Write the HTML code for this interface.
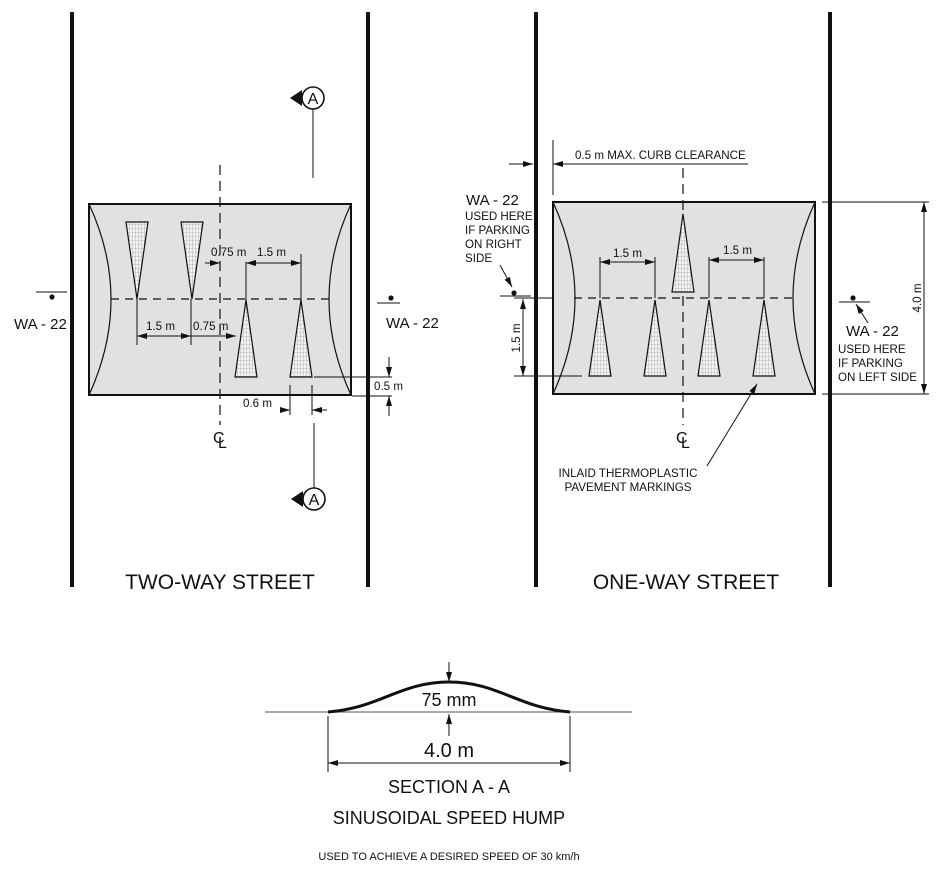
<!DOCTYPE html>
<html><head><meta charset="utf-8"><style>
html,body{margin:0;padding:0;background:#fff}
svg{display:block}
text{font-family:"Liberation Sans",Arial,sans-serif;fill:#111}
</style></head><body>
<svg width="943" height="871" viewBox="0 0 943 871" xmlns="http://www.w3.org/2000/svg">
<defs>
<pattern id="h" width="3" height="4" patternUnits="userSpaceOnUse">
<rect width="3" height="4" fill="#f2f2f2"/><path d="M0 0H3M0 0V4" stroke="#888" stroke-width="0.6"/>
</pattern>
<marker id="a" viewBox="0 0 10 6" refX="10" refY="3" markerWidth="10" markerHeight="6" orient="auto-start-reverse" markerUnits="userSpaceOnUse"><path d="M0 0L10 3L0 6Z" fill="#111"/></marker>
</defs>
<g stroke="#111" fill="none">
<path d="M72 12V587M368 12V587M536 12V587M830 12V587" stroke-width="4"/>
<rect x="89" y="204" width="262" height="191" fill="#e1e1e1" stroke-width="2"/>
<rect x="553" y="202" width="262" height="192" fill="#e1e1e1" stroke-width="2"/>
<g stroke-width="1.2">
<path d="M89 204Q133 299 89 395M351 204Q307 299 351 395"/>
<path d="M553 202Q597 298 553 394M815 202Q771 298 815 394"/>
<path d="M111 299H329" stroke-dasharray="8,6"/>
<path d="M220 165V425" stroke-dasharray="10,6"/>
<path d="M574 298H793" stroke-dasharray="8,6"/>
<path d="M683 168V425" stroke-dasharray="10,6"/>
</g>
<g fill="url(#h)" stroke-width="1.2">
<path d="M126 222H148L137 299Z"/><path d="M181 222H203L192 299Z"/>
<path d="M235 377H257L246 300Z"/><path d="M290 377H312L301 300Z"/>
<path d="M672 292H694L683 214Z"/>
<path d="M589 376H611L600 300Z"/><path d="M644 376H666L655 300Z"/>
<path d="M698 376H720L709 300Z"/><path d="M753 376H775L764 300Z"/>
</g>
<g stroke-width="1">
<path d="M137 299V345M191 299V345"/>
<path d="M137 336H191" marker-start="url(#a)" marker-end="url(#a)"/>
<path d="M191 336H236" marker-end="url(#a)"/>
<path d="M246 300V262M301 300V254"/>
<path d="M205 263H220" marker-end="url(#a)"/>
<path d="M246 263H301" marker-start="url(#a)" marker-end="url(#a)"/>
<path d="M314 377H392M352 396H392"/>
<path d="M389 357V377" marker-end="url(#a)"/>
<path d="M389 416V396" marker-end="url(#a)"/>
<path d="M290 385V415M312 385V415"/>
<path d="M280 410H290" marker-end="url(#a)"/>
<path d="M327 410H312" marker-end="url(#a)"/>
<path d="M36 292H67M377 303H400"/>
<path d="M313 109V178M314 423V488"/>
</g>
<circle cx="313" cy="98" r="11" fill="#fff" stroke-width="1.6"/>
<circle cx="314" cy="499" r="11" fill="#fff" stroke-width="1.6"/>
<g stroke-width="1">
<path d="M600 298V257M655 298V257M709 298V257M764 298V257"/>
<path d="M600 262H655" marker-start="url(#a)" marker-end="url(#a)"/>
<path d="M709 260H764" marker-start="url(#a)" marker-end="url(#a)"/>
<path d="M553 140V195"/>
<path d="M509 164H533" marker-end="url(#a)"/>
<path d="M748 164H553" marker-end="url(#a)"/>
<path d="M514 298H553M514 376H582"/>
<path d="M523 299V376" marker-start="url(#a)" marker-end="url(#a)"/>
<path d="M500 296H531"/>
<path d="M500 265L512 287" marker-end="url(#a)"/>
<path d="M822 202H929M822 394H929"/>
<path d="M924 202V394" marker-start="url(#a)" marker-end="url(#a)"/>
<path d="M839 302H870"/>
<path d="M868 323L856 304" marker-end="url(#a)"/>
<path d="M707 466L757 384" marker-end="url(#a)"/>
</g>
<path d="M265 712H632" stroke="#777" stroke-width="1.2"/>
<path d="M328 712C380 708 400 682 449 682C498 682 518 708 570 712" stroke-width="3"/>
<g stroke-width="1">
<path d="M449 662V682" marker-end="url(#a)"/>
<path d="M449 736V714" marker-end="url(#a)"/>
<path d="M328 716V772M570 716V772"/>
<path d="M328 763H570" marker-start="url(#a)" marker-end="url(#a)"/>
</g>
</g>
<g fill="#111">
<circle cx="52" cy="297" r="2.6"/><circle cx="391" cy="298" r="2.6"/>
<circle cx="514" cy="293" r="2.6"/><circle cx="853" cy="298" r="2.6"/>
<path d="M290 98L302 90V106Z"/><path d="M291 499L303 491V507Z"/>
</g>
<g font-size="16" text-anchor="middle">
<text x="313" y="104">A</text><text x="314" y="505">A</text>
</g>
<g font-size="11.6">
<text x="146" y="330">1.5 m</text><text x="193" y="330">0.75 m</text>
<text x="211" y="256">0.75 m</text><text x="257" y="256">1.5 m</text>
<text x="374" y="390">0.5 m</text><text x="243" y="407">0.6 m</text>
<text x="613" y="257">1.5 m</text><text x="723" y="254">1.5 m</text>
<text x="575" y="159">0.5 m MAX. CURB CLEARANCE</text>
<text transform="translate(520,338) rotate(-90)" text-anchor="middle">1.5 m</text>
<text transform="translate(921,298) rotate(-90)" text-anchor="middle">4.0 m</text>
</g>
<g font-size="15">
<text x="14" y="329">WA - 22</text><text x="386" y="328">WA - 22</text>
<text x="466" y="205">WA - 22</text><text x="846" y="336">WA - 22</text>
</g>
<g font-size="11.6">
<text x="465" y="220">USED HERE</text><text x="465" y="234">IF PARKING</text><text x="465" y="248">ON RIGHT</text><text x="465" y="262">SIDE</text>
<text x="838" y="353">USED HERE</text><text x="838" y="367">IF PARKING</text><text x="838" y="381">ON LEFT SIDE</text>
<text x="628" y="477" text-anchor="middle">INLAID THERMOPLASTIC</text>
<text x="628" y="491" text-anchor="middle">PAVEMENT MARKINGS</text>
</g>
<g font-size="16">
<text x="213" y="443">C</text><text x="218" y="448">L</text>
<text x="676" y="443">C</text><text x="681" y="448">L</text>
</g>
<g font-size="21" text-anchor="middle">
<text x="220" y="589">TWO-WAY STREET</text><text x="686" y="589">ONE-WAY STREET</text>
</g>
<g text-anchor="middle">
<text x="449" y="706" font-size="18">75 mm</text>
<text x="449" y="757" font-size="20">4.0 m</text>
<text x="449" y="793" font-size="18">SECTION A - A</text>
<text x="449" y="824" font-size="18">SINUSOIDAL SPEED HUMP</text>
<text x="449" y="860" font-size="11">USED TO ACHIEVE A DESIRED SPEED OF 30 km/h</text>
</g>
</svg>
</body></html>
